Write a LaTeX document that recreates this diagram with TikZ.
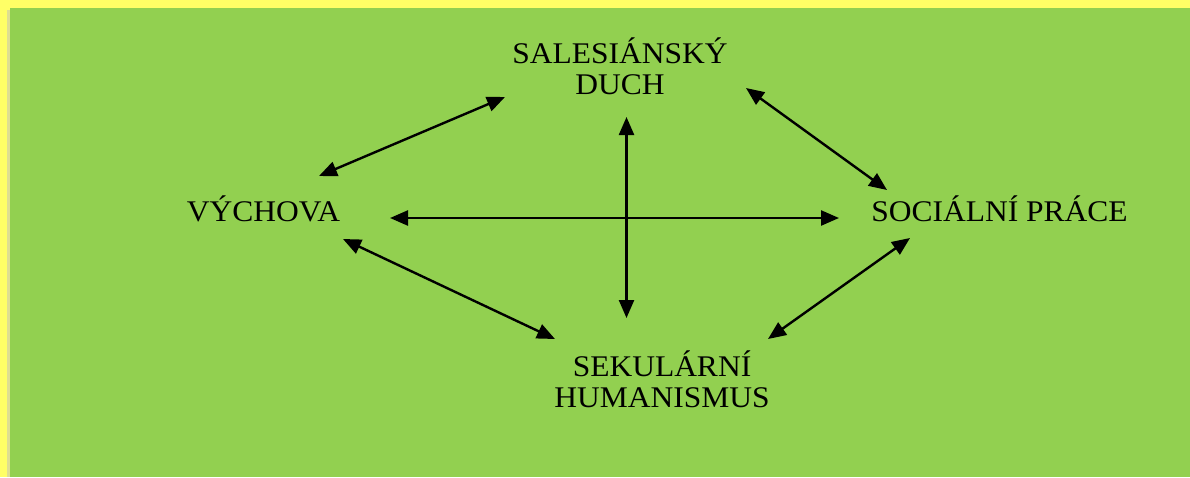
\documentclass[tikz,border=0pt]{standalone}
\usepackage{fontspec}
\setmainfont[FakeStretch=1.05]{Liberation Serif}
\usetikzlibrary{arrows.meta}
\definecolor{bgyellow}{HTML}{FFFF66}
\definecolor{bggreen}{HTML}{92D050}
\begin{document}
\begin{tikzpicture}[x=1pt,y=-1pt,
  lbl/.style={inner sep=0pt,outer sep=0pt,align=center,font=\fontsize{30}{31}\selectfont,text=black},
  biarrow/.style={line width=2.4pt,{Triangle[length=18pt,width=15pt]}-{Triangle[length=18pt,width=15pt]}}]
\fill[bgyellow] (0,0) rectangle (1190,477);
\fill[black!25,opacity=0.5] (7,10) rectangle (10,477);
\fill[bggreen] (10,8) rectangle (1190,477);
\useasboundingbox (0,0) rectangle (1190,477);

\node[lbl,anchor=base] (sal) at (620,94) {SALESIÁNSKÝ\\DUCH};
\node[lbl,anchor=base] (vych) at (263.5,221) {VÝCHOVA};
\node[lbl,anchor=base] (soc) at (999.5,221) {SOCIÁLNÍ PRÁCE};
\node[lbl,anchor=base] (sek) at (662,407) {SEKULÁRNÍ\\HUMANISMUS};

\coordinate (a1s) at (505,97);  \coordinate (a1e) at (319,176);
\coordinate (a2s) at (746,88);  \coordinate (a2e) at (887,190);
\coordinate (a3s) at (390,218); \coordinate (a3e) at (839,218);
\coordinate (a4s) at (626.5,117); \coordinate (a4e) at (626.5,318);
\coordinate (a5s) at (343,239); \coordinate (a5e) at (555,339);
\coordinate (a6s) at (910,238); \coordinate (a6e) at (768,339);

\draw[biarrow] (a1s) -- (a1e);
\draw[biarrow] (a2s) -- (a2e);
\draw[biarrow] (a3s) -- (a3e);
\draw[biarrow] (a4s) -- (a4e);
\draw[biarrow] (a5s) -- (a5e);
\draw[biarrow] (a6s) -- (a6e);
\end{tikzpicture}
\end{document}
